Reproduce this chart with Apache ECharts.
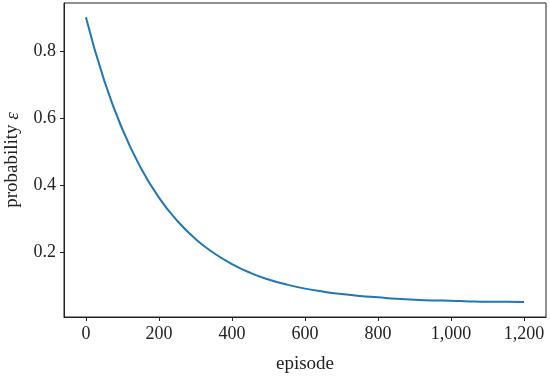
<!DOCTYPE html>
<html><head><meta charset="utf-8">
<script src="https://cdn.jsdelivr.net/npm/echarts@6/dist/echarts.min.js"></script>
<style>html,body{margin:0;padding:0;background:#fff}#c{width:550px;height:377px}</style>
</head><body><div id="c"></div>
<script>
const episodes = [0,50,100,150,200,250,300,350,400,450,500,550,600,650,700,750,800,850,900,950,1000,1050,1100,1150,1200];
const epsilon = [0.900,0.712,0.566,0.452,0.363,0.294,0.240,0.198,0.165,0.139,0.119,0.104,0.092,0.083,0.076,0.070,0.066,0.062,0.059,0.057,0.056,0.054,0.053,0.053,0.052];
const xTicks = [0,200,400,600,800,1000,1200];
const yTicks = [0.2,0.4,0.6,0.8];

const FONT = '"Liberation Serif", "DejaVu Serif", serif';
const ink = '#222';
const chart = echarts.init(document.getElementById('c'), null, {renderer:'canvas'});
chart.setOption({
  animation:false,
  backgroundColor:'#fff',
  grid:{left:64, right:4, top:3, bottom:60, containLabel:false, outerBoundsMode:'none',
    show:true, borderColor:ink, borderWidth:1, backgroundColor:'transparent'},
  xAxis:{
    type:'value', min:-60, max:1260,
    name:'episode', nameLocation:'middle', nameGap:38,
    nameTextStyle:{fontFamily:FONT, fontSize:19, color:ink},
    axisLine:{show:true, onZero:false, lineStyle:{color:ink, width:1}},
    axisTick:{show:true, length:4, inside:false, customValues:xTicks, lineStyle:{color:ink}},
    axisLabel:{customValues:xTicks, margin:8, fontFamily:FONT, fontSize:18, color:ink,
      formatter:v=>Number(v).toLocaleString('en-US')},
    splitLine:{show:false}
  },
  yAxis:{
    type:'value', min:0.0075, max:0.9425,
    name:'probability {i|ε}', nameLocation:'middle', nameGap:42, nameRotate:90,
    nameTextStyle:{fontFamily:FONT, fontSize:19, color:ink, rich:{i:{fontFamily:FONT, fontStyle:'italic', fontSize:19, color:ink}}},
    axisLine:{show:true, onZero:false, lineStyle:{color:ink, width:1}},
    axisTick:{show:true, length:4, inside:false, customValues:yTicks, lineStyle:{color:ink}},
    axisLabel:{customValues:yTicks, margin:8, fontFamily:FONT, fontSize:18, color:ink,
      formatter:v=>Number(v).toFixed(1)},
    splitLine:{show:false}
  },
  series:[{
    type:'line',
    data:episodes.map((e,i)=>[e,epsilon[i]]),
    showSymbol:false, smooth:true,
    lineStyle:{color:'#1f77b4', width:2},
    itemStyle:{color:'#1f77b4'}
  }]
});
</script></body></html>
